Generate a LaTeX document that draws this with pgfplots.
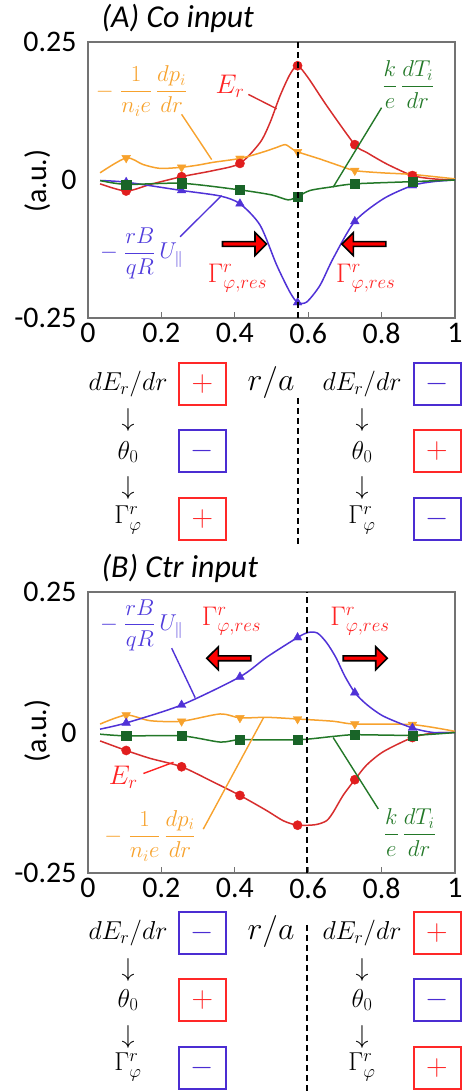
\RequirePackage{fix-cm}
\documentclass[border=0pt]{standalone}
\usepackage{amsmath}
\usepackage[no-math]{fontspec}
\setmainfont{Carlito}
\usepackage{pgfplots}
\pgfplotsset{compat=1.18}
\usetikzlibrary{shapes.arrows}

\definecolor{cRed}{RGB}{215,45,45}
\definecolor{cRedM}{RGB}{225,30,30}
\definecolor{cRedT}{RGB}{255,35,35}
\definecolor{cOr}{RGB}{247,162,45}
\definecolor{cGr}{RGB}{35,120,40}
\definecolor{cGrM}{RGB}{25,100,40}
\definecolor{cBl}{RGB}{80,50,215}
\definecolor{cBlT}{RGB}{80,60,220}
\definecolor{cBox}{RGB}{255,40,40}
\definecolor{cBoxB}{RGB}{75,45,210}

% ---------------- data: panel A ----------------
\pgfplotstableread{
r v
0.033 -0.007
0.104 -0.020
0.170 -0.008
0.255 0.006
0.341 0.017
0.414 0.030
0.469 0.068
0.496 0.104
0.523 0.152
0.550 0.191
0.571 0.207
0.600 0.185
0.650 0.135
0.727 0.064
0.759 0.050
0.814 0.029
0.884 0.008
0.941 0.002
1.000 0.000
}\AEr
\pgfplotstableread{
r v
0.033 0.013
0.104 0.040
0.150 0.028
0.196 0.021
0.255 0.023
0.300 0.027
0.341 0.032
0.414 0.039
0.469 0.049
0.510 0.058
0.537 0.064
0.555 0.057
0.571 0.051
0.632 0.038
0.680 0.027
0.727 0.017
0.800 0.013
0.884 0.010
1.000 0.002
}\AOr
\pgfplotstableread{
r v
0.033 -0.001
0.104 -0.008
0.255 -0.006
0.414 -0.018
0.500 -0.027
0.545 -0.036
0.571 -0.030
0.605 -0.019
0.659 -0.013
0.727 -0.007
0.884 -0.003
1.000 0.000
}\AGr
\pgfplotstableread{
r v
0.033 -0.001
0.104 -0.004
0.255 -0.019
0.360 -0.029
0.414 -0.043
0.469 -0.082
0.514 -0.154
0.550 -0.203
0.571 -0.222
0.596 -0.221
0.632 -0.191
0.668 -0.142
0.727 -0.075
0.805 -0.034
0.884 -0.010
0.941 -0.003
1.000 0.000
}\ABl
\pgfplotstableread{
r er or gr bl
0.104 -0.020 0.040 -0.008 -0.004
0.255 0.006 0.023 -0.006 -0.019
0.414 0.030 0.039 -0.018 -0.043
0.571 0.207 0.051 -0.030 -0.222
0.727 0.064 0.017 -0.007 -0.075
0.884 0.008 0.010 -0.003 -0.010
}\AMk

% ---------------- data: panel B ----------------
\pgfplotstableread{
r v
0.033 -0.015
0.104 -0.032
0.169 -0.046
0.255 -0.061
0.341 -0.088
0.414 -0.112
0.487 -0.139
0.532 -0.157
0.571 -0.165
0.620 -0.164
0.650 -0.157
0.668 -0.142
0.695 -0.112
0.727 -0.084
0.759 -0.058
0.805 -0.034
0.884 -0.009
0.941 -0.001
1.000 0.000
}\BEr
\pgfplotstableread{
r v
0.033 0.015
0.104 0.031
0.169 0.021
0.255 0.020
0.360 0.033
0.414 0.026
0.487 0.027
0.571 0.024
0.668 0.020
0.727 0.015
0.884 0.014
1.000 0.002
}\BOr
\pgfplotstableread{
r v
0.033 -0.003
0.104 -0.006
0.255 -0.006
0.360 -0.017
0.414 -0.013
0.571 -0.013
0.668 -0.007
0.727 -0.004
0.884 -0.005
1.000 0.000
}\BGr
\pgfplotstableread{
r v
0.033 0.006
0.104 0.017
0.255 0.049
0.414 0.099
0.487 0.134
0.571 0.169
0.600 0.178
0.625 0.177
0.650 0.160
0.675 0.134
0.700 0.100
0.727 0.071
0.759 0.050
0.805 0.029
0.884 0.008
0.941 0.000
1.000 0.000
}\BBl
\pgfplotstableread{
r er or gr bl
0.104 -0.032 0.031 -0.006 0.017
0.255 -0.061 0.020 -0.006 0.049
0.414 -0.112 0.026 -0.013 0.099
0.571 -0.165 0.024 -0.013 0.169
0.727 -0.084 0.015 -0.004 0.071
0.884 -0.009 0.014 -0.005 0.008
}\BMk

\pgfplotsset{
  panel/.style={
    anchor=south west, scale only axis, width=367bp,
    xmin=0, xmax=1, ymin=-0.25, ymax=0.25,
    xtick={0,0.2,0.4,0.6,0.8,1}, xticklabels={0,0.2,0.4,0.6,0.8,1},
    ytick={-0.25,0,0.25}, yticklabels={-0.25,0,0.25},
    xtick pos=bottom, ytick pos=left, tick align=inside,
    major tick length=6bp,
    ytick style={draw=none},
    xtick style={draw=black!55, line width=1bp},
    axis line style={draw=black!55, line width=1.2bp},
    ticklabel style={font=\fontsize{30}{31}\selectfont},
    xticklabel style={yshift=-2bp},
    yticklabel style={xshift=-8bp},
    /pgf/number format/assume math mode=true,
    clip mode=individual,
  },
  ln/.style={no markers, smooth, tension=0.45, line width=1.5bp},
  mk/.style={only marks, mark size=5bp},
}
\tikzset{
  fatarr/.style={single arrow, fill=red, draw=black, line width=1.6bp, minimum height=44bp, minimum width=23bp, single arrow head extend=3bp, inner sep=0pt},
  frl/.style={font=\fontsize{23}{24}\selectfont, inner sep=0bp},
  gl/.style={font=\fontsize{27}{27}\selectfont, text=cRedT, inner sep=0bp},
}

\newcommand{\signbox}[4]{%
  \draw[#3, line width=2bp] (#1-23.5,#2-21) rectangle (#1+23.5,#2+21);
  \node[text=#3, font=\fontsize{30}{30}\selectfont] at (#1,#2) {$#4$};
}

\begin{document}
\begin{tikzpicture}[x=1bp,y=1bp]
\path[use as bounding box] (0,0) rectangle (462,1092);

% ================= Panel A =================
\node[anchor=west, font=\fontsize{32}{33}\selectfont\itshape] at (98,1074) {(A) Co input};
\node[rotate=90, font=\fontsize{30}{31}\selectfont] at (38,911) {(a.u.)};
\begin{axis}[panel, at={(88bp,774bp)}, height=276bp]
\addplot[ln, cRed] table[x=r,y=v] {\AEr};
\addplot[ln, cOr] table[x=r,y=v] {\AOr};
\addplot[ln, cBl] table[x=r,y=v] {\ABl};
\addplot[ln, cGr] table[x=r,y=v] {\AGr};
\addplot[mk, mark=triangle*, mark options={rotate=180}, color=cOr] table[x=r,y=or] {\AMk};
\addplot[mk, mark=*, mark size=4.6bp, color=cRedM] table[x=r,y=er] {\AMk};
\addplot[mk, mark=triangle*, color=cBl] table[x=r,y=bl] {\AMk};
\addplot[mk, mark=square*, mark size=4.6bp, color=cGrM] table[x=r,y=gr] {\AMk};
\draw[black, line width=2bp, dash pattern=on 6bp off 4bp] (axis cs:0.572,-0.25) -- (axis cs:0.572,0.25);
% labels
\node[frl, text=cOr] at (axis cs:0.146,0.161) {$-\;\dfrac{1}{n_i e}\,\dfrac{dp_i}{dr}$};
\draw[cOr, line width=1.4bp] (axis cs:0.255,0.119) -- (axis cs:0.337,0.037);
\node[gl] at (axis cs:0.387,0.170) {$E_r$};
\draw[cRed, line width=1.4bp] (axis cs:0.437,0.155) -- (axis cs:0.514,0.129);
\node[frl, text=cGr] at (axis cs:0.873,0.173) {$\dfrac{k}{e}\,\dfrac{dT_i}{dr}$};
\draw[cGr, line width=1.4bp] (axis cs:0.800,0.131) -- (axis cs:0.668,-0.013);
\node[frl, text=cBlT] at (axis cs:0.146,-0.133) {$-\;\dfrac{rB}{qR}\,{\LARGE U_{\parallel}}$};
\draw[cBl, line width=1.4bp] (axis cs:0.251,-0.103) -- (axis cs:0.364,-0.028);
\node[gl] at (axis cs:0.407,-0.178) {$\Gamma^{r}_{\varphi,res}$};
\node[gl] at (axis cs:0.757,-0.178) {$\Gamma^{r}_{\varphi,res}$};
\node[fatarr] at (axis cs:0.423,-0.116) {};
\node[fatarr, shape border rotate=180] at (axis cs:0.755,-0.116) {};
\end{axis}

% table A
\node[font=\fontsize{32}{32}\selectfont] at (271,709) {$r/a$};
\draw[black, line width=2bp, dash pattern=on 6bp off 4bp] (298,694) -- (298,544);
\begin{scope}[every node/.style={font=\fontsize{26}{26}\selectfont, inner sep=0bp}]
\node at (128,708) {$dE_r/dr$};
\node at (128,672) {$\downarrow$};
\node at (128,640) {$\theta_0$};
\node at (128,604) {$\downarrow$};
\node at (128,572) {$\Gamma^r_\varphi$};
\node at (362,708) {$dE_r/dr$};
\node at (362,672) {$\downarrow$};
\node at (362,640) {$\theta_0$};
\node at (362,604) {$\downarrow$};
\node at (362,572) {$\Gamma^r_\varphi$};
\end{scope}
\signbox{202.5}{708}{cBox}{+}
\signbox{202.5}{641}{cBoxB}{-}
\signbox{202.5}{573}{cBox}{+}
\signbox{437}{708}{cBoxB}{-}
\signbox{437}{641}{cBox}{+}
\signbox{437}{573}{cBoxB}{-}

% ================= Panel B =================
\node[anchor=west, font=\fontsize{32}{33}\selectfont\itshape] at (98,524) {(B) Ctr input};
\node[rotate=90, font=\fontsize{30}{31}\selectfont] at (38,361) {(a.u.)};
\begin{axis}[panel, at={(88bp,219bp)}, height=281bp]
\addplot[ln, cRed] table[x=r,y=v] {\BEr};
\addplot[ln, cOr] table[x=r,y=v] {\BOr};
\addplot[ln, cBl] table[x=r,y=v] {\BBl};
\addplot[ln, cGr] table[x=r,y=v] {\BGr};
\addplot[mk, mark=triangle*, mark options={rotate=180}, color=cOr] table[x=r,y=or] {\BMk};
\addplot[mk, mark=*, mark size=4.6bp, color=cRedM] table[x=r,y=er] {\BMk};
\addplot[mk, mark=triangle*, color=cBl] table[x=r,y=bl] {\BMk};
\addplot[mk, mark=square*, mark size=4.6bp, color=cGrM] table[x=r,y=gr] {\BMk};
\draw[black, line width=2bp, dash pattern=on 6bp off 4bp] (axis cs:0.597,-0.25) -- (axis cs:0.597,0.25);
% labels
\node[frl, text=cBlT] at (axis cs:0.146,0.191) {$-\;\dfrac{rB}{qR}\,{\LARGE U_{\parallel}}$};
\draw[cBl, line width=1.4bp] (axis cs:0.228,0.150) -- (axis cs:0.292,0.062);
\node[gl] at (axis cs:0.096,-0.079) {$E_r$};
\draw[cRedT, line width=1.4bp] (axis cs:0.151,-0.073) -- (axis cs:0.233,-0.053);
\node[frl, text=cOr] at (axis cs:0.169,-0.184) {$-\;\dfrac{1}{n_i e}\,\dfrac{dp_i}{dr}$};
\draw[cOr, line width=1.4bp] (axis cs:0.314,-0.172) -- (axis cs:0.478,0.026);
\node[frl, text=cGr] at (axis cs:0.877,-0.178) {$\dfrac{k}{e}\,\dfrac{dT_i}{dr}$};
\draw[cGr, line width=1.4bp] (axis cs:0.791,-0.136) -- (axis cs:0.668,-0.009);
\node[gl] at (axis cs:0.391,0.198) {$\Gamma^{r}_{\varphi,res}$};
\node[gl] at (axis cs:0.741,0.198) {$\Gamma^{r}_{\varphi,res}$};
\node[fatarr, shape border rotate=180] at (axis cs:0.387,0.132) {};
\node[fatarr] at (axis cs:0.752,0.132) {};
\end{axis}

% table B
\node[font=\fontsize{32}{32}\selectfont] at (271,160) {$r/a$};
\draw[black, line width=2bp, dash pattern=on 6bp off 4bp] (307,167) -- (307,0);
\begin{scope}[every node/.style={font=\fontsize{26}{26}\selectfont, inner sep=0bp}]
\node at (128,159) {$dE_r/dr$};
\node at (128,122) {$\downarrow$};
\node at (128,92) {$\theta_0$};
\node at (128,55) {$\downarrow$};
\node at (128,25) {$\Gamma^r_\varphi$};
\node at (362,159) {$dE_r/dr$};
\node at (362,122) {$\downarrow$};
\node at (362,92) {$\theta_0$};
\node at (362,55) {$\downarrow$};
\node at (362,25) {$\Gamma^r_\varphi$};
\end{scope}
\signbox{202.5}{159}{cBoxB}{-}
\signbox{202.5}{92}{cBox}{+}
\signbox{202.5}{24}{cBoxB}{-}
\signbox{437}{159}{cBox}{+}
\signbox{437}{92}{cBoxB}{-}
\signbox{437}{24}{cBox}{+}
\end{tikzpicture}
\end{document}
